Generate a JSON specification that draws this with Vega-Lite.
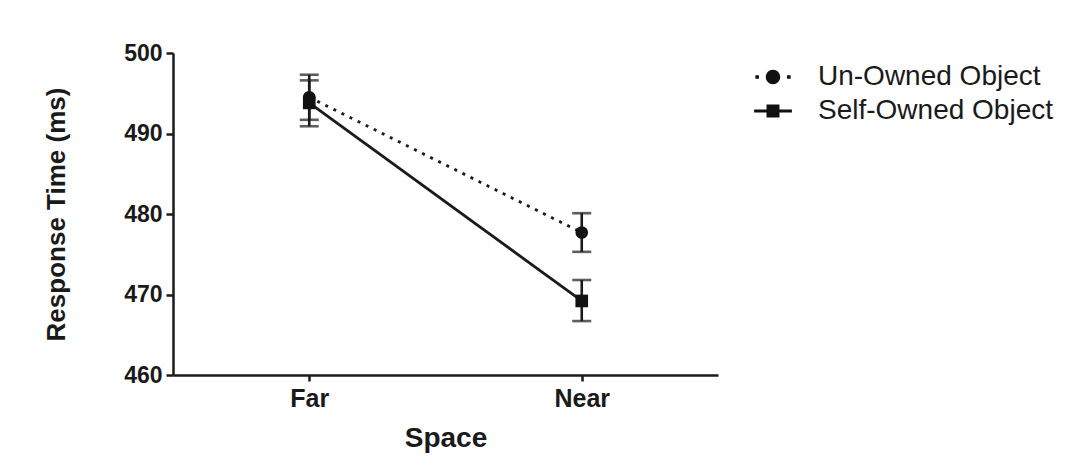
{
  "$schema": "https://vega.github.io/schema/vega-lite/v6.json",
  "width": 545,
  "height": 322,
  "autosize": {"type": "none"},
  "padding": {"left": 173, "top": 53, "right": 361, "bottom": 97},
  "background": "white",
  "config": {
    "view": {"stroke": null},
    "font": "Liberation Sans",
    "axis": {"grid": false, "domainColor": "#1a1a1a", "tickColor": "#1a1a1a", "domainWidth": 2.5, "tickWidth": 2.5, "labelColor": "#1a1a1a", "titleColor": "#1a1a1a", "labelFont": "Liberation Sans", "titleFont": "Liberation Sans", "labelFontWeight": "bold", "titleFontWeight": "bold"}
  },
  "data": {
    "values": [
      {"space": "Far", "group": "Un-Owned Object", "rt": 494.5, "lo": 491.7, "hi": 497.3},
      {"space": "Near", "group": "Un-Owned Object", "rt": 477.7, "lo": 475.3, "hi": 480.1},
      {"space": "Far", "group": "Self-Owned Object", "rt": 493.8, "lo": 490.9, "hi": 496.6},
      {"space": "Near", "group": "Self-Owned Object", "rt": 469.2, "lo": 466.7, "hi": 471.8}
    ]
  },
  "encoding": {
    "x": {
      "field": "space", "type": "ordinal",
      "scale": {"type": "point", "padding": 0.5, "domain": ["Far", "Near"]},
      "axis": {"title": "Space", "labelAngle": 0, "labelFontSize": 25, "titleFontSize": 28, "tickSize": 6, "labelPadding": 5, "titlePadding": 13}
    }
  },
  "layer": [
    {
      "transform": [{"filter": "datum.group === 'Un-Owned Object'"}],
      "mark": {"type": "line", "color": "#1a1a1a", "strokeWidth": 2.8, "strokeDash": [3, 6]},
      "encoding": {
        "y": {"field": "rt", "type": "quantitative", "scale": {"domain": [460, 500], "nice": false, "zero": false},
          "axis": {"title": "Response Time (ms)", "values": [460, 470, 480, 490, 500], "labelFontSize": 23, "titleFontSize": 26, "tickSize": 7, "labelPadding": 4, "titlePadding": 54}}
      }
    },
    {
      "transform": [{"filter": "datum.group === 'Self-Owned Object'"}],
      "mark": {"type": "line", "color": "#1a1a1a", "strokeWidth": 2.8},
      "encoding": {
        "y": {"field": "rt", "type": "quantitative"}
      }
    },
    {
      "mark": {"type": "rule", "color": "#1a1a1a", "strokeWidth": 2.6},
      "encoding": {
        "y": {"field": "lo", "type": "quantitative"},
        "y2": {"field": "hi"}
      }
    },
    {
      "mark": {"type": "tick", "color": "#1a1a1a", "thickness": 2.6, "size": 19, "orient": "horizontal"},
      "encoding": {"y": {"field": "hi", "type": "quantitative"}}
    },
    {
      "mark": {"type": "tick", "color": "#1a1a1a", "thickness": 2.6, "size": 19, "orient": "horizontal"},
      "encoding": {"y": {"field": "lo", "type": "quantitative"}}
    },
    {
      "mark": {"type": "point", "filled": true, "color": "#111111", "opacity": 1},
      "encoding": {
        "y": {"field": "rt", "type": "quantitative"},
        "size": {"value": 20},
        "shape": {
          "field": "group", "type": "nominal",
          "scale": {
            "domain": ["Un-Owned Object", "Self-Owned Object"],
            "range": [
              "M-0.4,0A0.4,0.4,0,1,1,0.4,0A0.4,0.4,0,1,1,-0.4,0Z M-0.98,-0.1h0.2v0.2h-0.2Z M0.78,-0.1h0.2v0.2h-0.2Z",
              "M-1.05,-0.09H1.05V0.09H-1.05Z M-0.36,-0.36H0.36V0.36H-0.36Z"
            ]
          },
          "legend": {
            "title": null,
            "orient": "none",
            "legendX": 582,
            "legendY": 6,
            "symbolSize": 1296,
            "symbolStrokeWidth": 0,
            "labelFontSize": 28,
            "labelFont": "Liberation Sans",
            "labelColor": "#1a1a1a",
            "labelLimit": 400,
            "labelOffset": 27,
            "rowPadding": 2
          }
        }
      }
    },
    {
      "transform": [{"filter": "datum.group === 'Un-Owned Object'"}],
      "mark": {"type": "point", "filled": true, "color": "#111111", "opacity": 1, "shape": "circle", "size": 160},
      "encoding": {"y": {"field": "rt", "type": "quantitative"}}
    },
    {
      "transform": [{"filter": "datum.group === 'Self-Owned Object'"}],
      "mark": {"type": "point", "filled": true, "color": "#111111", "opacity": 1, "shape": "square", "size": 160},
      "encoding": {"y": {"field": "rt", "type": "quantitative"}}
    }
  ]
}
